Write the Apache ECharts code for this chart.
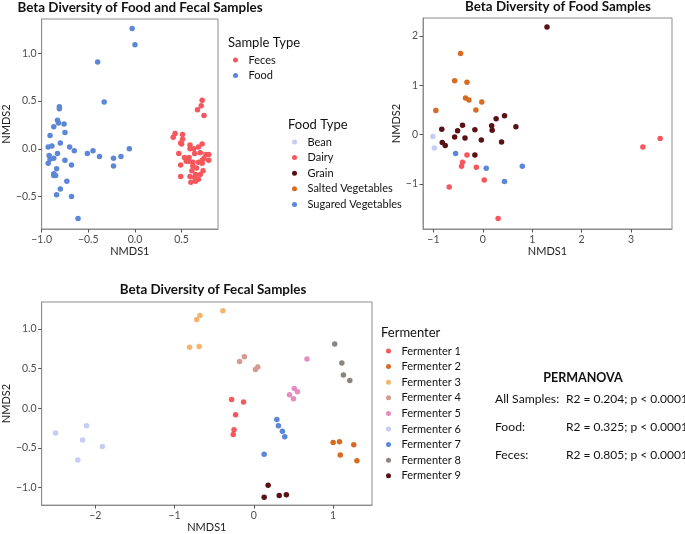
<!DOCTYPE html>
<html><head><meta charset="utf-8">
<script src="https://cdn.jsdelivr.net/npm/echarts@6/dist/echarts.min.js"></script>
<style>html,body{margin:0;padding:0;background:#fff}#c{width:685px;height:534px}</style>
</head><body><div id="c"></div>
<script>
// ---------- Panel 1: all samples ----------
const allFeces = [[0.72,0.51],[0.71,0.45],[0.67,0.41],[0.74,0.35],[0.43,0.16],[0.41,0.12],[0.51,0.15],[0.51,0.10],[0.49,0.06],[0.50,0.05],[0.59,0.04],[0.68,0.02],[0.72,0.05],[0.63,0.00],[0.59,0.00],[0.47,-0.05],[0.53,-0.09],[0.58,-0.09],[0.64,-0.05],[0.70,-0.04],[0.74,-0.10],[0.76,-0.06],[0.79,-0.06],[0.79,-0.12],[0.72,-0.12],[0.55,-0.13],[0.58,-0.13],[0.62,-0.14],[0.68,-0.14],[0.49,-0.17],[0.72,-0.15],[0.62,-0.18],[0.66,-0.20],[0.61,-0.23],[0.73,-0.23],[0.65,-0.27],[0.70,-0.27],[0.59,-0.29],[0.49,-0.29],[0.64,-0.30],[0.60,-0.35],[0.65,-0.34],[0.68,-0.32]];
const allFood = [[-0.03,1.26],[0.00,1.09],[-0.40,0.91],[-0.33,0.49],[-0.81,0.44],[-0.81,0.42],[-0.83,0.30],[-0.82,0.27],[-0.87,0.23],[-0.76,0.26],[-0.75,0.17],[-0.91,0.14],[-0.80,0.06],[-0.93,0.02],[-0.89,0.03],[-0.70,0.02],[-0.65,-0.02],[-0.83,-0.05],[-0.92,-0.07],[-0.91,-0.11],[-0.87,-0.10],[-0.93,-0.15],[-0.75,-0.12],[-0.68,-0.17],[-0.84,-0.21],[-0.87,-0.26],[-0.85,-0.28],[-0.87,-0.28],[-0.73,-0.34],[-0.80,-0.42],[-0.84,-0.48],[-0.68,-0.50],[-0.61,-0.73],[-0.51,-0.05],[-0.45,-0.02],[-0.38,-0.08],[-0.23,-0.10],[-0.23,-0.18],[-0.15,-0.08],[-0.06,0.00]];
const p1XTicks = [-1.0,-0.5,0.0,0.5];
const p1YTicks = [-0.5,0.0,0.5,1.0];

// ---------- Panel 2: food samples ----------
const foodBean = [[-1.01,-0.04],[-0.98,-0.27]];
const foodDairy = [[-0.32,-0.41],[-0.41,-0.56],[-0.43,-0.64],[-0.13,-0.66],[0.03,-0.92],[-0.68,-1.06],[0.31,-1.70],[3.24,-0.25],[3.59,-0.08]];
const foodGrain = [[1.30,2.18],[-0.83,0.11],[-0.51,0.08],[-0.41,0.19],[-0.16,0.10],[-0.57,-0.05],[-0.36,-0.07],[-0.82,-0.16],[-0.76,-0.22],[-0.03,-0.11],[0.27,0.32],[0.44,0.38],[0.18,0.18],[0.19,0.09],[0.67,0.16],[0.38,-0.15],[-0.16,-0.41]];
const foodSalted = [[-0.45,1.64],[-0.57,1.09],[-0.32,1.06],[-0.35,0.74],[-0.28,0.70],[-0.02,0.66],[-0.14,0.50],[-0.95,0.49]];
const foodSugared = [[-0.55,-0.38],[0.07,-0.68],[0.80,-0.64],[0.44,-0.95]];
const p2XTicks = [-1,0,1,2,3];
const p2YTicks = [-1,0,1,2];

// ---------- Panel 3: fecal samples ----------
const ferm1 = [[-0.28,0.11],[-0.13,0.08],[-0.23,-0.08],[-0.25,-0.27],[-0.26,-0.33]];
const ferm2 = [[1.00,-0.43],[1.08,-0.42],[1.26,-0.46],[1.09,-0.59],[1.30,-0.66]];
const ferm3 = [[-0.72,1.12],[-0.68,1.17],[-0.39,1.23],[-0.81,0.77],[-0.69,0.78]];
const ferm4 = [[-0.18,0.59],[-0.12,0.65],[0.05,0.52],[0.02,0.49]];
const ferm5 = [[0.67,0.62],[0.51,0.25],[0.55,0.21],[0.45,0.17],[0.50,0.12]];
const ferm6 = [[-2.50,-0.31],[-2.11,-0.22],[-2.16,-0.40],[-1.91,-0.48],[-2.22,-0.65]];
const ferm7 = [[0.29,-0.14],[0.31,-0.22],[0.36,-0.29],[0.39,-0.36],[0.13,-0.58]];
const ferm8 = [[1.02,0.81],[1.11,0.57],[1.13,0.42],[1.21,0.35]];
const ferm9 = [[0.18,-0.97],[0.13,-1.12],[0.32,-1.10],[0.41,-1.09]];
const p3XTicks = [-2,-1,0,1];
const p3YTicks = [-1.0,-0.5,0.0,0.5,1.0];

const sampleTypes = ['Feces','Food'];
const foodTypes = ['Bean','Dairy','Grain','Salted Vegetables','Sugared Vegetables'];
const fermenters = ['Fermenter 1','Fermenter 2','Fermenter 3','Fermenter 4','Fermenter 5','Fermenter 6','Fermenter 7','Fermenter 8','Fermenter 9'];
const permTests = ['All Samples:','Food:','Feces:'];
const permResults = ['R2 = 0.204; p < 0.0001','R2 = 0.325; p < 0.0001','R2 = 0.805; p < 0.0001'];

const C = {
  red:'#F6575C', blue:'#5C86D7', lav:'#C6CCF4', dark:'#5A1115', orange:'#D96A21',
  lorange:'#F4B46C', rose:'#D49B91', pink:'#E68DC0', grey:'#8B8581'
};
const FONT = 'Lato, "Noto Sans", sans-serif';
const fmt1 = v => (v < 0 ? '\u2212' : '') + Math.abs(v).toFixed(1);
const fmt0 = v => (v < 0 ? '\u2212' : '') + Math.abs(v).toFixed(0);

function axis(gridIndex, min, max, ticks, fmt, name, gap, isY) {
  return {
    type:'value', gridIndex, min, max, name, nameLocation:'middle', nameGap:gap,
    nameRotate: isY ? 90 : 0,
    position: isY ? 'left' : 'bottom',
    nameTextStyle:{fontFamily:FONT, fontSize:11, color:'#222'},
    axisLine:{show:true, onZero:false, lineStyle:{color:'#8c8c8c', width:1}},
    splitLine:{show:false},
    axisTick:{show:true, inside:false, length:3.5, customValues:ticks, lineStyle:{color:'#555', width:1}},
    axisLabel:{customValues:ticks, formatter:fmt, fontFamily:FONT, fontSize:10.5, color:'#4d4d4d', margin:5}
  };
}
function sc(name, data, color, xi) {
  return {type:'scatter', name, data, xAxisIndex:xi, yAxisIndex:xi, symbolSize:5.5,
    itemStyle:{color, opacity:1}, emphasis:{disabled:true}, animation:false};
}
const gridBase = {show:true, borderColor:'#8c8c8c', borderWidth:1, backgroundColor:'#fff', containLabel:false};
function legend(names, left, top) {
  return {orient:'vertical', left, top, padding:0, itemGap:3.6, itemWidth:16, itemHeight:5,
    icon:'circle', selectedMode:false, data:names,
    textStyle:{fontFamily:FONT, fontSize:11, color:'#111', lineHeight:12}};
}
const graphics = [];
function txt(text, x, y, size, weight, align) {
  graphics.push({type:'text', x, y, style:{text, fill:'#111', font: (weight||'normal') + ' ' + size + 'px ' + FONT,
    textAlign: align || 'left', textVerticalAlign:'middle'}});
}
txt('Beta Diversity of Food and Fecal Samples', 140, 8, 13.4, 'bold', 'center');
txt('Beta Diversity of Food Samples', 558, 7, 13.4, 'bold', 'center');
txt('Beta Diversity of Fecal Samples', 213, 290, 13.4, 'bold', 'center');
txt('Sample Type', 228, 43, 13);
txt('Food Type', 288, 125, 13);
txt('Fermenter', 381, 333, 13);
txt('PERMANOVA', 583, 378, 12.5, 'bold', 'center');
permTests.forEach((t,i) => { txt(t, 495, 399.5 + i*27.7, 12.2); txt(permResults[i], 566, 399.5 + i*27.7, 12); });

const chart = echarts.init(document.getElementById('c'), null, {renderer:'canvas'});
chart.setOption({
  backgroundColor:'#fff',
  animation:false,
  grid:[
    Object.assign({left:34, top:19, width:184, height:210}, gridBase),
    Object.assign({left:423, top:18, width:249, height:211}, gridBase),
    Object.assign({left:33, top:302, width:339, height:208}, gridBase)
  ],
  xAxis:[
    axis(0, -1.0, 0.89, p1XTicks, fmt1, 'NMDS1', 14, false),
    axis(1, -1.21, 3.83, p2XTicks, fmt0, 'NMDS1', 15, false),
    axis(2, -2.676, 1.49, p3XTicks, fmt0, 'NMDS1', 15, false)
  ],
  yAxis:[
    axis(0, -0.84, 1.36, p1YTicks, fmt1, 'NMDS2', 20, true),
    axis(1, -1.91, 2.36, p2YTicks, fmt0, 'NMDS2', 16, true),
    axis(2, -1.22, 1.34, p3YTicks, fmt1, 'NMDS2', 20, true)
  ],
  legend:[
    legend(sampleTypes, 233, 54),
    legend(foodTypes, 292, 136),
    legend(fermenters, 386, 345)
  ],
  graphic: graphics,
  series:[
    sc('Feces', allFeces, C.red, 0),
    sc('Food', allFood, C.blue, 0),
    sc('Bean', foodBean, C.lav, 1),
    sc('Dairy', foodDairy, C.red, 1),
    sc('Grain', foodGrain, C.dark, 1),
    sc('Salted Vegetables', foodSalted, C.orange, 1),
    sc('Sugared Vegetables', foodSugared, C.blue, 1),
    sc('Fermenter 1', ferm1, C.red, 2),
    sc('Fermenter 2', ferm2, C.orange, 2),
    sc('Fermenter 3', ferm3, C.lorange, 2),
    sc('Fermenter 4', ferm4, C.rose, 2),
    sc('Fermenter 5', ferm5, C.pink, 2),
    sc('Fermenter 6', ferm6, C.lav, 2),
    sc('Fermenter 7', ferm7, C.blue, 2),
    sc('Fermenter 8', ferm8, C.grey, 2),
    sc('Fermenter 9', ferm9, C.dark, 2)
  ]
});
</script></body></html>
